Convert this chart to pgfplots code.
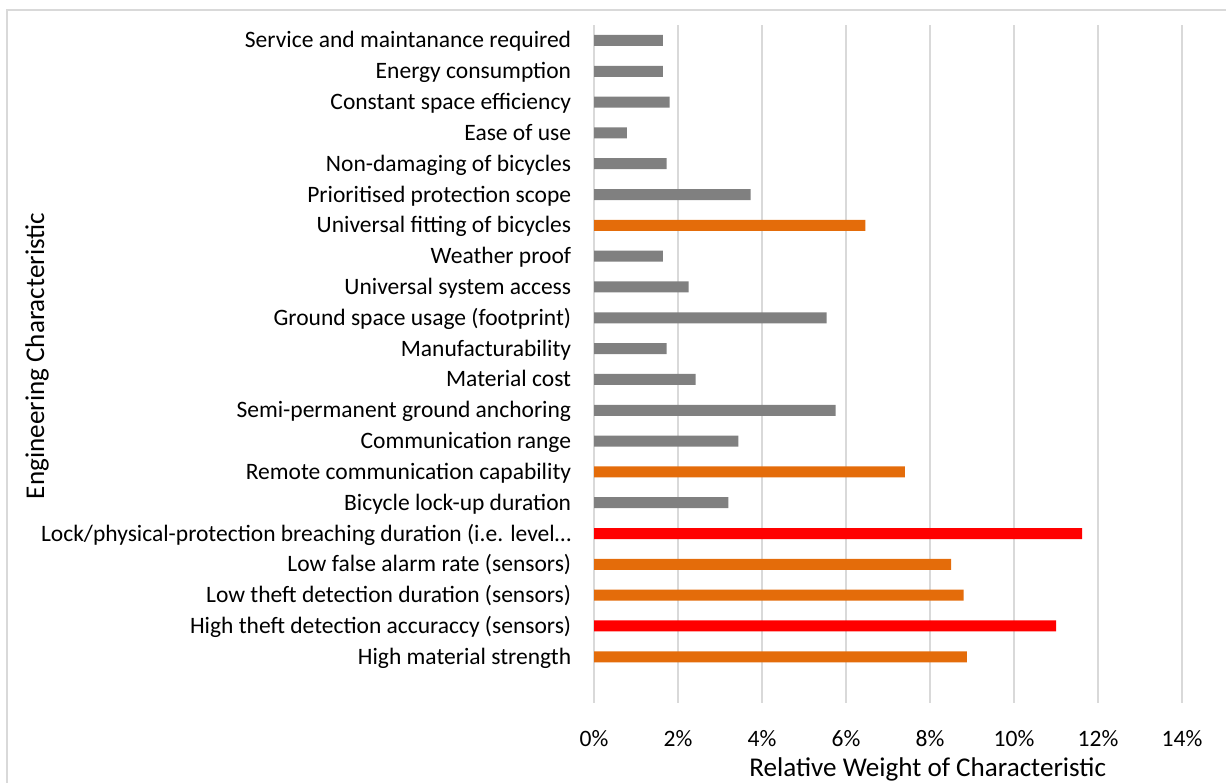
\documentclass[border=0pt]{standalone}
\usepackage{pgfplots}
\pgfplotsset{compat=1.18}
\usepackage{fontspec}
\setmainfont{Carlito}
\definecolor{bargrey}{HTML}{808080}
\definecolor{barorange}{HTML}{E46C0A}
\definecolor{barred}{HTML}{FF0000}
\definecolor{gridgrey}{HTML}{D9D9D9}
\begin{document}
\fontsize{11.8}{14}\selectfont
\begin{tikzpicture}[x=1bp,y=1bp]
\useasboundingbox (0,0) rectangle (613,-391);
\draw[gridgrey, line width=1bp] (3.7,-420) -- (3.7,-5) -- (640,-5);
\begin{axis}[
  at={(297bp,-351.5bp)}, anchor=south west,
  width=294bp, height=339bp, scale only axis,
  xmin=0, xmax=14, ymin=0.5, ymax=22.5, y dir=reverse,
  xbar, bar width=5.5bp, bar shift=0pt,
  xtick={0,2,4,6,8,10,12,14},
  xticklabels={0\%,2\%,4\%,6\%,8\%,10\%,12\%,14\%},
  ytick={1,2,3,4,5,6,7,8,9,10,11,12,13,14,15,16,17,18,19,20,21},
  yticklabels={{Service and maintanance required},{Energy consumption},{Constant space efficiency},{Ease of use},{Non-damaging of bicycles},{Prioritised protection scope},{Universal fitting of bicycles},{Weather proof},{Universal system access},{Ground space usage (footprint)},{Manufacturability},{Material cost},{Semi-permanent ground anchoring},{Communication range},{Remote communication capability},{Bicycle lock-up duration},{Lock/physical-protection breaching duration (i.e. level…},{Low false alarm rate (sensors)},{Low theft detection duration (sensors)},{High theft detection accuraccy (sensors)},{High material strength}},
  xmajorgrids, major grid style={gridgrey, line width=1bp},
  axis line style={draw=none}, tick style={draw=none},
  xticklabel style={anchor=north, inner sep=0pt, yshift=-13.5bp},
  yticklabel style={anchor=east, inner sep=0pt, xshift=-7bp, text height=0.64em, text depth=0pt},
  xlabel={\fontsize{13.6}{16}\selectfont Relative Weight of Characteristic},
  xlabel style={at={(axis description cs:0.5675,0)}, anchor=base, yshift=-36.5bp},
  ylabel={\fontsize{13.6}{16}\selectfont Engineering Characteristic},
  ylabel style={at={(axis description cs:-0.947,0.512)}, anchor=center},
  clip=false,
]
\addplot[fill=bargrey, draw=none] coordinates {(1.64,1) (1.64,2) (1.80,3) (0.78,4) (1.73,5) (3.73,6) (1.64,8) (2.25,9) (5.54,10) (1.73,11) (2.42,12) (5.75,13) (3.44,14) (3.20,16)};
\addplot[fill=barorange, draw=none] coordinates {(6.46,7) (7.40,15) (8.50,18) (8.80,19) (8.88,21)};
\addplot[fill=barred, draw=none] coordinates {(11.62,17) (11.00,20)};
\end{axis}
\end{tikzpicture}
\end{document}
